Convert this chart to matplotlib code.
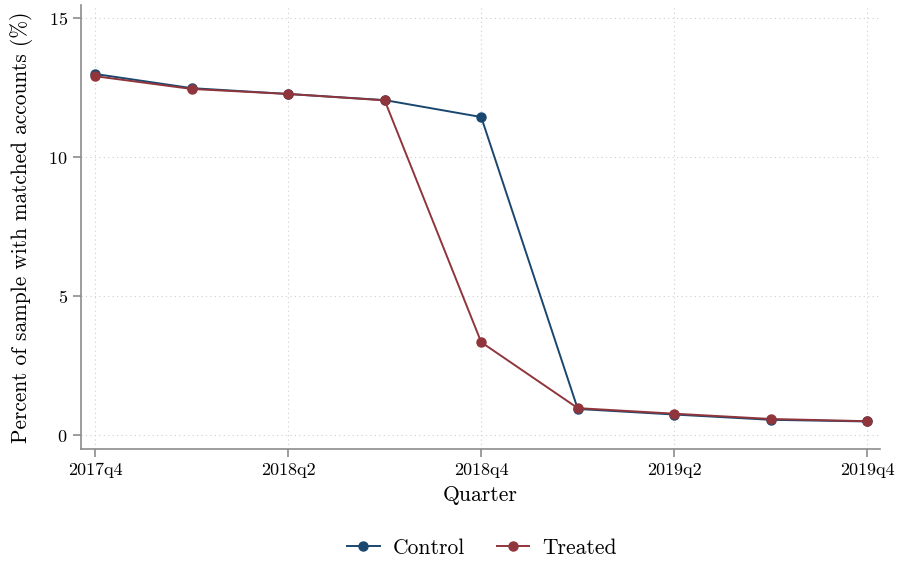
import matplotlib
matplotlib.use("Agg")
import matplotlib.pyplot as plt

quarters = ["2017q4", "2018q1", "2018q2", "2018q3", "2018q4",
            "2019q1", "2019q2", "2019q3", "2019q4"]
control = [12.99, 12.48, 12.27, 12.05, 11.44, 0.94, 0.74, 0.55, 0.49]
treated = [12.91, 12.45, 12.27, 12.04, 3.34, 0.97, 0.77, 0.58, 0.50]

plt.rcParams['font.family'] = ['cmr10', 'DejaVu Serif']
plt.rcParams['axes.formatter.use_mathtext'] = True
plt.rcParams['mathtext.fontset'] = 'cm'


def main() -> None:
    fig = plt.figure(figsize=(9.01, 5.65), dpi=100)
    ax = fig.add_axes([81 / 901, 1 - 449 / 565, (880 - 81) / 901, (449 - 5) / 565])

    x = list(range(len(quarters)))
    ax.plot(x, control, color='#1a476f', marker='o', markersize=6.5, lw=1.4, label='Control')
    ax.plot(x, treated, color='#90353b', marker='o', markersize=6.5, lw=1.4, label='Treated')

    ax.set_xlim(-0.145, 8.13)
    ax.set_ylim(-0.5, 15.47)
    ax.set_xticks(x[::2])
    ax.set_xticklabels(quarters[::2])
    ax.set_yticks([0, 5, 10, 15])

    for s in ['top', 'right']:
        ax.spines[s].set_visible(False)
    for s in ['left', 'bottom']:
        ax.spines[s].set_color('#8c8c8c')
        ax.spines[s].set_linewidth(1.2)
    ax.tick_params(colors='#8c8c8c', labelcolor='black', length=6, width=1.2, labelsize=13)
    ax.grid(True, color='#cfcfcf', linestyle=(0, (1, 3)), linewidth=0.8)
    ax.set_axisbelow(True)

    ax.set_xlabel('Quarter', fontsize=15.5, labelpad=6)
    ax.set_ylabel('Percent of sample with matched accounts (%)', fontsize=15.4, labelpad=11)

    fig.legend(loc='center', bbox_to_anchor=(0.535, 1 - 548 / 565), ncol=2, frameon=False,
               fontsize=15.5, handlelength=1.5, handletextpad=0.6, columnspacing=1.5)

    fig.savefig('out.png', dpi=100)


if __name__ == "__main__":
    main()
